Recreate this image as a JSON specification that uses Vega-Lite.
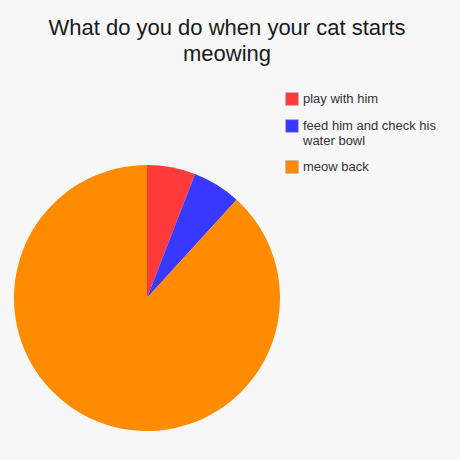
{
  "$schema": "https://vega.github.io/schema/vega-lite/v6.json",
  "autosize": "none",
  "width": 294,
  "height": 266,
  "padding": {"left": 0, "top": 165, "right": 166, "bottom": 29},
  "background": "#f7f7f7",
  "title": {
    "text": ["What do you do when your cat starts", "meowing"],
    "anchor": "middle",
    "dx": 80,
    "offset": 26,
    "fontSize": 22,
    "fontWeight": "normal",
    "font": "Liberation Sans",
    "color": "#1a1a1a",
    "lineHeight": 26
  },
  "data": {
    "values": [
      {"answer": "play with him", "count": 1, "order": 1},
      {"answer": "feed him and check his water bowl", "count": 1, "order": 2},
      {"answer": "meow back", "count": 15, "order": 3}
    ]
  },
  "mark": {"type": "arc"},
  "encoding": {
    "theta": {"field": "count", "type": "quantitative", "stack": true},
    "order": {"field": "order", "type": "quantitative"},
    "color": {
      "field": "answer",
      "type": "nominal",
      "scale": {
        "domain": ["play with him", "feed him and check his water bowl", "meow back"],
        "range": ["#ff3a3a", "#3838ff", "#ff8c00"]
      },
      "legend": {
        "title": null,
        "orient": "none",
        "legendX": 285,
        "legendY": -73,
        "symbolType": "square",
        "symbolSize": 160,
        "symbolStrokeColor": "#999999",
        "symbolStrokeWidth": 0.5,
        "labelFont": "Liberation Sans",
        "labelFontSize": 13,
        "labelColor": "#333333",
        "labelLimit": 200,
        "rowPadding": 11,
        "labelExpr": "datum.label == 'feed him and check his water bowl' ? ['feed him and check his', 'water bowl'] : datum.label"
      }
    }
  }
}
